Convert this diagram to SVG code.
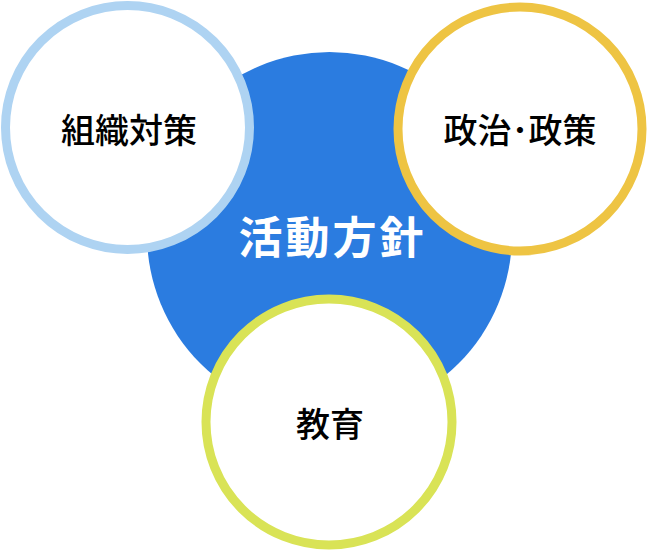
<svg xmlns="http://www.w3.org/2000/svg" width="650" height="552" viewBox="0 0 650 552">
<style>
.ring{fill:#ffffff;stroke-width:9}
.lbl{font-family:"Noto Sans CJK JP","Noto Sans",sans-serif;font-size:34px;font-weight:500;fill:#000000;text-anchor:middle}
.main{font-family:"Noto Sans CJK JP","Noto Sans",sans-serif;font-size:44px;font-weight:700;fill:#ffffff;text-anchor:middle;letter-spacing:3px}
</style>
<rect width="650" height="552" fill="#ffffff"/>
<g id="center">
<circle cx="329.5" cy="234.5" r="182.5" fill="#2B7CE0"/>
<text class="main" x="332.5" y="254">活動方針</text>
</g>
<g id="soshiki">
<circle class="ring" cx="127.5" cy="127.5" r="122" stroke="#AED3F2"/>
<text class="lbl" x="129" y="143">組織対策</text>
</g>
<g id="seiji">
<circle class="ring" cx="520" cy="129" r="122" stroke="#EEC443"/>
<text class="lbl" x="520" y="143">政治･政策</text>
</g>
<g id="kyoiku">
<circle class="ring" cx="329" cy="422" r="123" stroke="#D9E356"/>
<text class="lbl" x="330" y="437">教育</text>
</g>
<g id="connectors"/>
</svg>
